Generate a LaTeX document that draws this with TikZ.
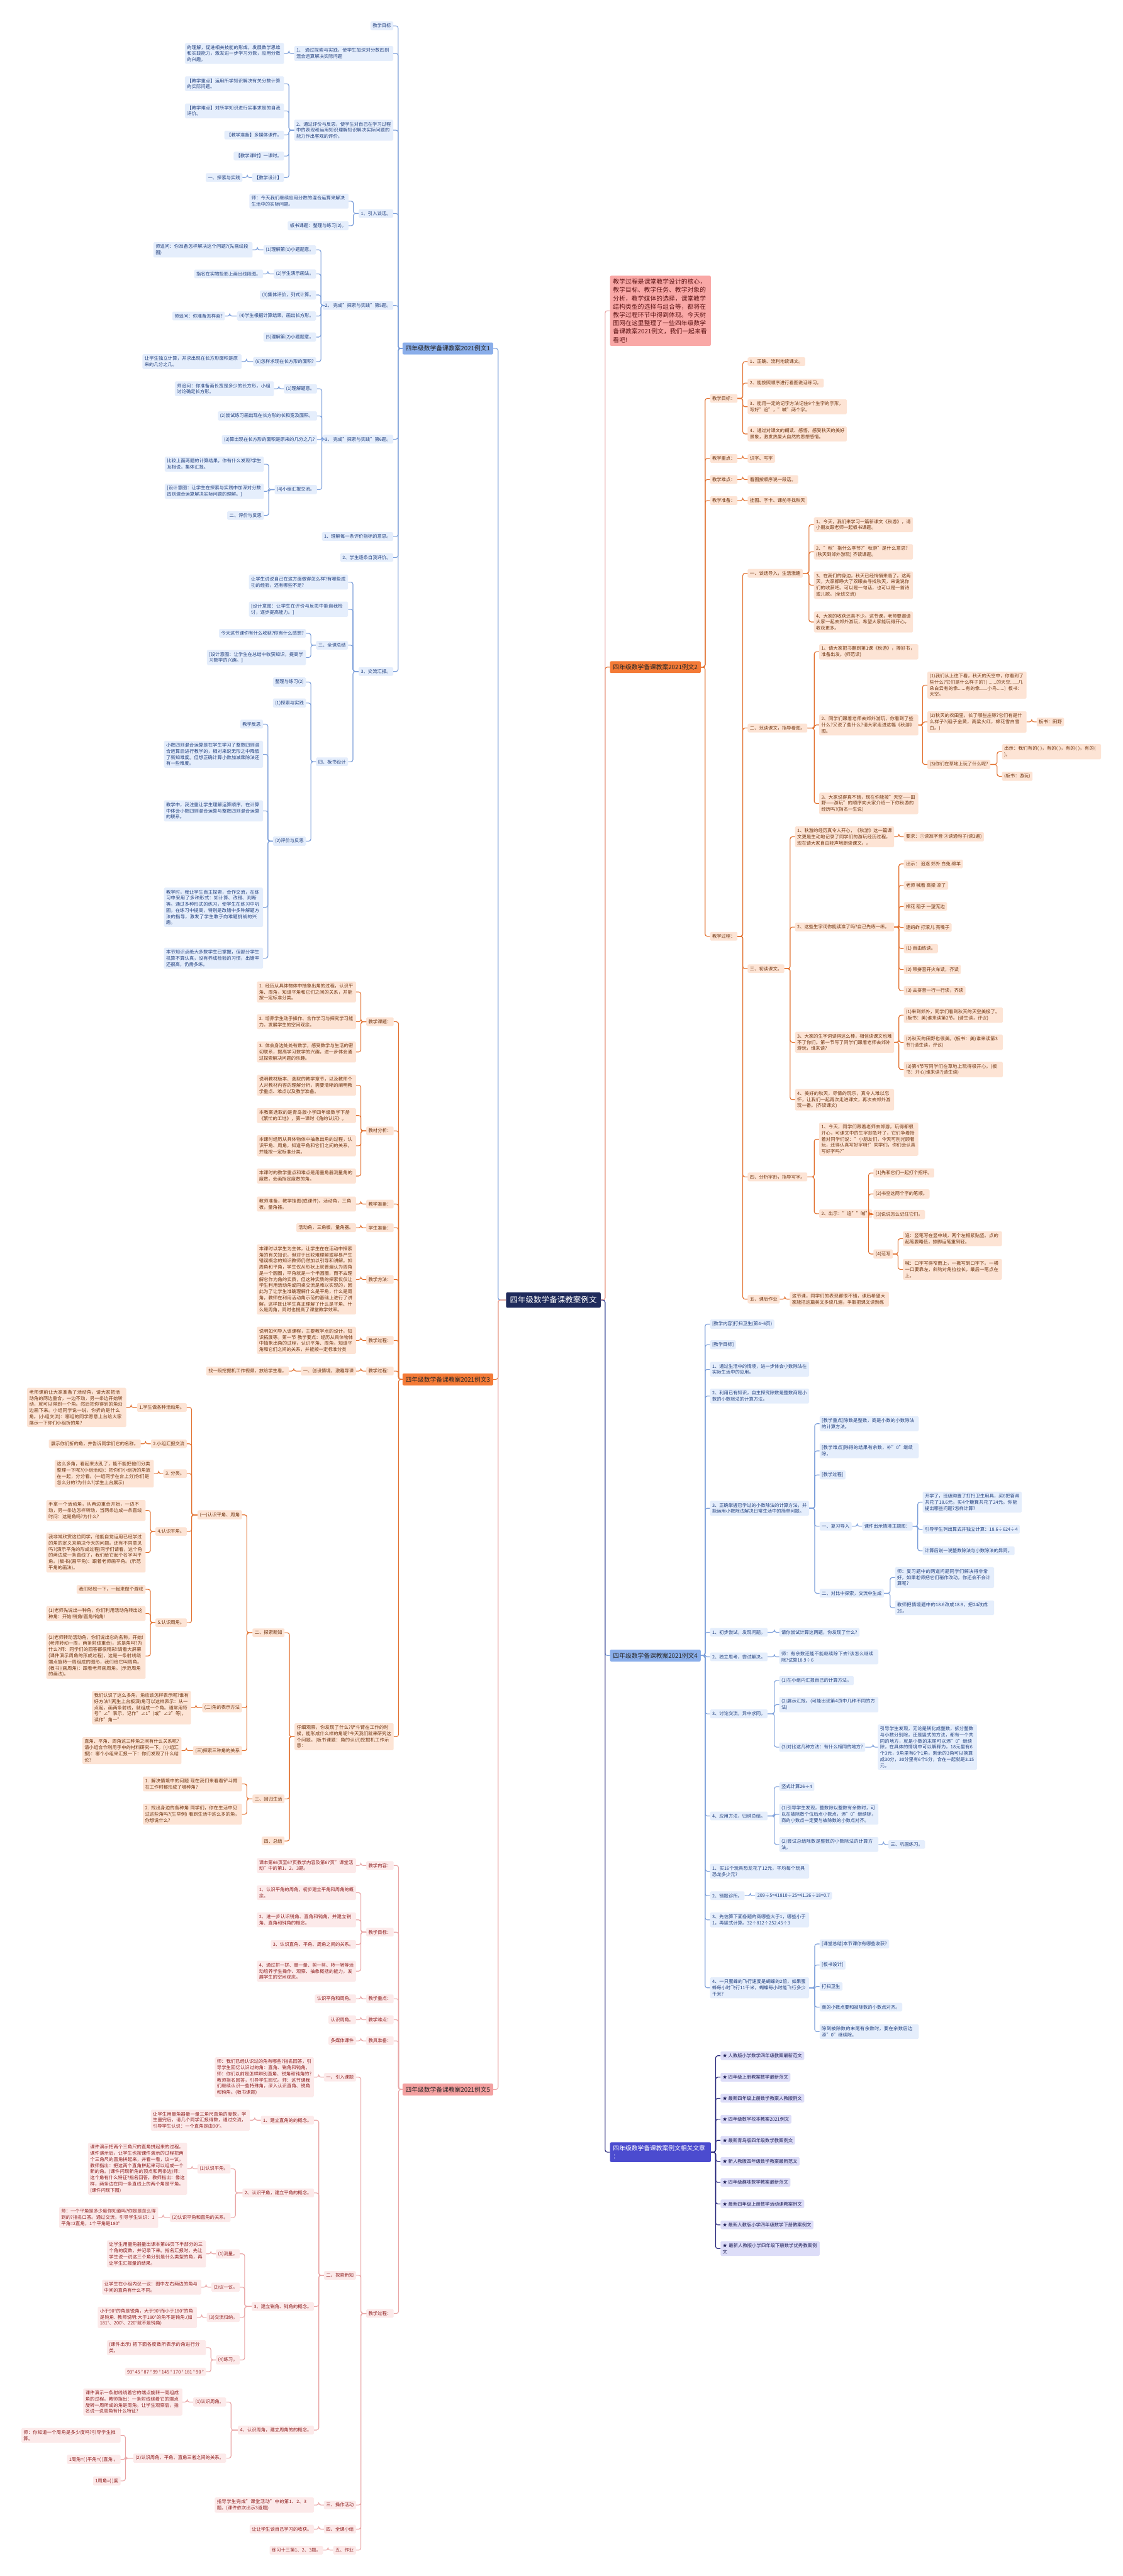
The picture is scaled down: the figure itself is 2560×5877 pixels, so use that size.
\documentclass[tikz,border=0pt]{standalone}
\usepackage{fontspec}
\setmainfont{Noto Sans CJK SC}
\XeTeXlinebreaklocale "zh"
\XeTeXlinebreakskip = 0pt plus 1pt
\usepackage{tikz}

\definecolor{rootc}{HTML}{1F2B5B}
\definecolor{bluemain}{HTML}{8AAEEA}
\definecolor{blueleaf}{HTML}{E5EEFC}
\definecolor{bluetext}{HTML}{22407E}
\definecolor{blueline}{HTML}{7A9EDA}
\definecolor{ormain}{HTML}{F47A36}
\definecolor{orleaf}{HTML}{FDE4D5}
\definecolor{ortext}{HTML}{6E3410}
\definecolor{orline}{HTML}{E2702E}
\definecolor{pkmain}{HTML}{F3A0A0}
\definecolor{pkleaf}{HTML}{FCEAEA}
\definecolor{pktext}{HTML}{8E1F1F}
\definecolor{pkline}{HTML}{E9A5A5}
\definecolor{vimain}{HTML}{4B4BCF}
\definecolor{vileaf}{HTML}{DDDDF8}
\definecolor{vitext}{HTML}{1E1E55}
\definecolor{viline}{HTML}{25257A}
\definecolor{introfill}{HTML}{F9A8A6}
\definecolor{introtext}{HTML}{5E1414}

\newcommand{\linkL}[2]{\draw (#1.west) -| ([xshift=11pt]#2.east) -- (#2.east);}
\newcommand{\linkR}[2]{\draw (#1.east) -| ([xshift=-11pt]#2.west) -- (#2.west);}

\begin{document}
\begin{tikzpicture}[x=1pt,y=-1pt,
  font=\fontsize{10.5}{14}\selectfont,
  leaf/.style={rounded corners=2.5pt,inner xsep=5pt,inner ysep=5pt,align=left},
  tw/.style={text width=216pt},
  lb/.style={leaf,fill=blueleaf,text=bluetext,anchor=east},
  rb/.style={leaf,fill=blueleaf,text=bluetext,anchor=west},
  lo/.style={leaf,fill=orleaf,text=ortext,anchor=east},
  ro/.style={leaf,fill=orleaf,text=ortext,anchor=west},
  lp/.style={leaf,fill=pkleaf,text=pktext,anchor=east},
  rv/.style={leaf,fill=vileaf,text=vitext,anchor=west},
  topic/.style={rounded corners=3pt,inner xsep=7pt,inner ysep=7pt,font=\fontsize{14}{19}\selectfont,align=left},
  link/.style={line width=1.6pt,rounded corners=5pt}]

\fill[white] (0,0) rectangle (2560,5877);
\useasboundingbox (0,0) rectangle (2560,5877);

% centre and main topics
\node[topic,fill=rootc,text=white,font=\fontsize{18}{22}\selectfont,inner xsep=9pt,inner ysep=9pt] (root) at (1262,2966) {四年级数学备课教案例文};
\node[topic,fill=introfill,text=introtext,anchor=west,text width=216pt] (intro) at (1391,709) {教学过程是课堂教学设计的核心，教学目标、教学任务、教学对象的分析，教学媒体的选择，课堂教学结构类型的选择与组合等，都将在教学过程环节中得到体现。今天树图网在这里整理了一些四年级数学备课教案2021例文，我们一起来看看吧!};
\node[topic,fill=bluemain,text=black!85,anchor=east] (a) at (1125,795) {四年级数学备课教案2021例文1};
\node[topic,fill=ormain,text=black!85,anchor=west] (b) at (1391,1522) {四年级数学备课教案2021例文2};
\node[topic,fill=ormain,text=black!85,anchor=east] (c) at (1125,3147) {四年级数学备课教案2021例文3};
\node[topic,fill=bluemain,text=black!85,anchor=west] (d) at (1391,3777) {四年级数学备课教案2021例文4};
\node[topic,fill=pkmain,text=black!85,anchor=east] (e) at (1125,4767) {四年级数学备课教案2021例文5};
\node[topic,fill=vimain,text=white,anchor=west,text width=216pt] (f) at (1391,4910) {四年级数学备课教案例文相关文章\\：};

% example 1
\node[lb] (a1) at (897,59) {教学目标};
\node[lb,tw] (a2) at (897,122) {1、 通过探索与实践，使学生加深对分数四则混合运算解决实际问题};
\node[lb,tw] (a21) at (648,122) {的理解，促进相关技能的形成，发展数学思维和实践能力，激发进一步学习分数，应用分数的兴趣。};
\node[lb,tw] (a3) at (897,297) {2、通过评价与反思，使学生对自己在学习过程中的表现和运用知识理解知识解决实际问题的能力作出客观的评价。};
\node[lb,tw] (a31) at (648,191) {【教学重点】运用所学知识解决有关分数计算的实际问题。};
\node[lb,tw] (a32) at (648,253) {【教学难点】对所学知识进行实事求是的自我评价。};
\node[lb] (a33) at (648,308) {【教学准备】多媒体课件。};
\node[lb] (a34) at (648,356) {【教学课时】一课时。};
\node[lb] (a35) at (648,405) {【教学设计】};
\node[lb] (a351) at (553,405) {一、探索与实践};
\node[lb] (a4) at (897,487) {1、引入谈话。};
\node[lb,tw] (a41) at (795,459) {师：今天我们继续应用分数的混合运算来解决生活中的实际问题。};
\node[lb] (a42) at (795,515) {板书课题：整理与练习(2)。};
\node[lb] (a5) at (897,697) {2、 完成"探索与实践"第5题。};
\node[lb] (a51) at (721,570) {(1)理解第(1)小题题意。};
\node[lb,tw] (a511) at (576,570) {师追问：你准备怎样解决这个问题?(先画线段图)};
\node[lb] (a52) at (721,625) {(2)学生演示画法。};
\node[lb] (a521) at (600,625) {指名在实物投影上画出线段图。};
\node[lb] (a53) at (721,673) {(3)集体评价，列式计算。};
\node[lb] (a54) at (721,721) {(4)学生根据计算结果，画出长方形。};
\node[lb] (a541) at (513,721) {师追问：你准备怎样画?};
\node[lb] (a55) at (721,769) {(5)理解第(2)小题题意。};
\node[lb] (a56) at (721,825) {(6)怎样求现在长方形的面积?};
\node[lb,tw] (a561) at (551,825) {让学生独立计算，并求出现在长方形面积是原来的几分之几。};
\node[lb] (a6) at (897,1002) {3、 完成"探索与实践"第6题。};
\node[lb] (a61) at (723,887) {(1)理解题意。};
\node[lb,tw] (a611) at (625,887) {师追问：你准备画长宽是多少的长方形，小组讨论确定长方形。};
\node[lb,tw] (a62) at (723,949) {(2)尝试练习画出现在长方形的长和宽及面积。};
\node[lb] (a63) at (723,1003) {(3)算出现在长方形的面积是原来的几分之几?};
\node[lb] (a64) at (723,1117) {(4)小组汇报交流。};
\node[lb,tw] (a641) at (602,1059) {比较上面两题的计算结果，你有什么发现?学生互相说，集体汇报。};
\node[lb,tw] (a642) at (602,1121) {[设计意图：让学生在探索与实践中加深对分数四则混合运算解决实际问题的理解。]};
\node[lb] (a643) at (602,1176) {二、评价与反思};
\node[lb] (a7) at (897,1224) {1、理解每一条评价指标的意思。};
\node[lb] (a8) at (897,1272) {2、学生逐条自我评价。};
\node[lb] (a9) at (897,1532) {3、交流汇报。};
\node[lb,tw] (a91) at (794,1328) {让学生说说自己在这方面做得怎么样?有哪些成功的经验，还有哪些不足?};
\node[lb,tw] (a92) at (794,1390) {[设计意图：让学生在评价与反思中能自我检讨，逐步提高能力。]};
\node[lb] (a93) at (794,1472) {三、全课总结};
\node[lb] (a931) at (698,1445) {今天这节课你有什么收获?你有什么感想?};
\node[lb,tw] (a932) at (698,1500) {[设计意图：让学生在总结中收获知识，提高学习数学的兴趣。]};
\node[lb] (a94) at (794,1738) {四、板书设计};
\node[lb] (a941) at (698,1556) {整理与练习(2)};
\node[lb] (a942) at (698,1604) {(1)探索与实践};
\node[lb] (a943) at (698,1919) {(2)评价与反思};
\node[lb] (a9431) at (600,1652) {教学反思};
\node[lb,tw] (a9432) at (600,1721) {小数四则混合运算是在学生学习了整数四则混合运算后进行教学的，相对来说无形之中降低了新知难度。但想正确计算小数加减乘除法还有一些难度。};
\node[lb,tw] (a9433) at (600,1850) {教学中，我注重让学生理解运算顺序，在计算中体会小数四则混合运算与整数四则混合运算的联系。};
\node[lb,tw] (a9434) at (600,2070) {教学时，我让学生自主探索，合作交流，在练习中采用了多种形式：如计算、改错、判断等。通过多种形式的练习，使学生在练习中巩固，在练习中提高，特别是改错中多种解题方法的指导，激发了学生敢于向难题挑战的兴趣。};
\node[lb,tw] (a9435) at (600,2186) {本节知识点绝大多数学生已掌握，但部分学生机算不算认真，没有养成检验的习惯，出错率还很高，仍需多练。};

% example 2
\node[ro] (b1) at (1619,909) {教学目标：};
\node[ro] (b11) at (1705,825) {1、正确、流利地读课文。};
\node[ro] (b12) at (1705,874) {2、能按照顺序进行看图说话练习。};
\node[ro,tw] (b13) at (1705,928) {3、能用一定的记字方法记住9个生字的字形，写好"追"，"喊"两个字。};
\node[ro,tw] (b14) at (1705,990) {4、通过对课文的朗读、感悟，感受秋天的美好景象，激发热爱大自然的思想感情。};
\node[ro] (b2) at (1619,1046) {教学重点：};
\node[ro] (b21) at (1705,1046) {识字、写字};
\node[ro] (b3) at (1619,1094) {教学难点：};
\node[ro] (b31) at (1705,1094) {看图按顺序说一段话。};
\node[ro] (b4) at (1619,1142) {教学准备：};
\node[ro] (b41) at (1705,1142) {挂图、字卡、课前寻找秋天};
\node[ro] (b5) at (1619,2136) {教学过程：};
\node[ro] (b51) at (1705,1308) {一、谈话导入，生活激趣};
\node[ro,tw] (b511) at (1856,1197) {1、今天，我们来学习一篇新课文《秋游》，请小朋友跟老师一起板书课题。};
\node[ro,tw] (b512) at (1856,1259) {2、"秋"指什么季节?"秋游"是什么意思?(秋天到郊外游玩) 齐读课题。};
\node[ro,tw] (b513) at (1856,1335) {3、在我们的身边，秋天已经悄悄来临了。这两天，大家都睁大了双眼去寻找秋天，来说说你们的收获吧。可以是一句话，也可以是一首诗或儿歌。(全班交流)};
\node[ro,tw] (b514) at (1856,1419) {4、大家的收获还真不少。这节课，老师要邀请大家一起去郊外游玩，希望大家能玩得开心，收获更多。};
\node[ro] (b52) at (1705,1661) {二、范读课文，指导看图。};
\node[ro,tw] (b521) at (1868,1487) {1、请大家把书翻到第1课《秋游》，捧好书，准备出发。(师范读)};
\node[ro,tw] (b522) at (1868,1654) {2、同学们跟着老师去郊外游玩，你看到了些什么?又说了些什么?请大家走进这幅《秋游》图。};
\node[ro,tw] (b5221) at (2115,1563) {(1)我们从上往下看，秋天的天空中，你看到了些什么?它们是什么样子的?( ......的天空......几朵白云有的像......有的像......小鸟......) 板书：天空。};
\node[ro,tw] (b5222) at (2115,1647) {(2)秋天的农田里，长了哪些庄稼?它们有是什么样子?(稻子金黄，高粱火红，棉花雪白雪白。)};
\node[ro] (b52221) at (2364,1647) {板书：田野};
\node[ro] (b5223) at (2115,1744) {(3)你们在草地上玩了什么呢?};
\node[ro,tw] (b52231) at (2285,1715) {出示：我们有的( )，有的( )，有的( )，有的( )。};
\node[ro] (b52232) at (2285,1771) {(板书：游玩)};
\node[ro,tw] (b523) at (1868,1833) {3、大家说得真不错，现在你能按"天空——田野——游玩"的顺序向大家介绍一下你秋游的经历吗?(指名一生说)};
\node[ro] (b53) at (1705,2210) {三、初读课文。};
\node[ro,tw] (b531) at (1813,1909) {1、秋游的经历真令人开心，《秋游》这一篇课文更是生动地记录了同学们的游玩经历过程，现在请大家自由轻声地朗读课文。。};
\node[ro] (b5311) at (2061,1909) {要求：①读准字音 ②读通句子(读3遍)};
\node[ro,tw] (b532) at (1813,2115) {2、这些生字词你能读准了吗?自己先练一练。};
\node[ro] (b5321) at (2061,1971) {出示： 追逐 郊外 白兔 绵羊};
\node[ro] (b5322) at (2061,2020) {老师 喊着 高粱 凉了};
\node[ro] (b5323) at (2061,2068) {棉花 稻子 一望无边};
\node[ro] (b5324) at (2061,2116) {逮蚂蚱 打滚儿 亮嗓子};
\node[ro] (b5325) at (2061,2164) {(1) 自由练读。};
\node[ro] (b5326) at (2061,2212) {(2) 带拼音开火车读，齐读};
\node[ro] (b5327) at (2061,2260) {(3) 去拼音一行一行读，齐读};
\node[ro,tw] (b533) at (1813,2378) {3、大家的生字词读得这么棒，相信读课文也难不了你们。第一节写了同学们跟着老师去郊外游玩，谁来读?};
\node[ro,tw] (b5331) at (2061,2316) {(1)来到郊外，同学们看到秋天的天空美极了。(板书：美)谁来读第2节。(请生读，评议)};
\node[ro,tw] (b5332) at (2061,2378) {(2)秋天的田野也很美。(板书：美)谁来读第3节?(请生读，评议)};
\node[ro,tw] (b5333) at (2061,2440) {(3)第4节写同学们在草地上玩得很开心。(板书：开心)谁来读?(请生读)};
\node[ro,tw] (b534) at (1813,2509) {4、美好的秋天，尽情的玩乐，真令人难以忘怀，让我们一起再次走进课文，再次去郊外游玩一番。(齐读课文)};
\node[ro] (b54) at (1705,2685) {四、分析字形，指导写字。};
\node[ro,tw] (b541) at (1868,2599) {1、今天，同学们跟着老师去郊游，玩得都很开心，可课文中的生字却急坏了，它们争着抢着对同学们说："小朋友们，今天可别光顾着玩，还得认真写好字呀!"同学们，你们会认真写好字吗?"};
\node[ro] (b542) at (1868,2769) {2、出示："追""喊"};
\node[ro] (b5421) at (1992,2676) {(1)先和它们一起打个招呼。};
\node[ro] (b5422) at (1992,2724) {(2)书空这两个字的笔顺。};
\node[ro] (b5423) at (1992,2771) {(3)说说怎么记住它们。};
\node[ro] (b5424) at (1992,2861) {(4)范写};
\node[ro,tw] (b54241) at (2059,2826) {追：竖笔写在竖中线，两个左框紧贴竖。点的起笔要略低，捺脚运笔重到轻。};
\node[ro,tw] (b54242) at (2059,2896) {喊：口字写得窄而上，一撇写到口字下。一横一口要靠左，斜钩对角拉拉长，最后一笔点在上。};
\node[ro] (b55) at (1705,2964) {五、课后作业};
\node[ro,tw] (b551) at (1801,2964) {这节课，同学们的表现都很不错，课后希望大家能把这篇美文多读几遍，争取把课文读熟练};

% example 3
\node[lo] (c1) at (898,2331) {教学课题：};
\node[lo,tw] (c11) at (812,2263) {1. 经历从具体物体中抽象出角的过程，认识平角、周角，知道平角和它们之间的关系，并能按一定标准分类。};
\node[lo,tw] (c12) at (812,2331) {2. 培养学生动手操作、合作学习与探究学习能力。发展学生的空间观念。};
\node[lo,tw] (c13) at (812,2400) {3. 体会身边处处有数学，感受数学与生活的密切联系，提高学习数学的兴趣，进一步体会通过探索解决问题的乐趣。};
\node[lo] (c2) at (898,2580) {教材分析：};
\node[lo,tw] (c21) at (812,2476) {说明教材版本、选取的教学章节，以及教师个人对教材内容的理解分析，需要清晰的阐明教学重点、难点以及教学准备。};
\node[lo,tw] (c22) at (812,2545) {本教案选取的是青岛版小学四年级数学下册《繁忙的工地》，第一课时《角的认识》。};
\node[lo,tw] (c23) at (812,2614) {本课时经历从具体物体中抽象出角的过程，认识平角、周角，知道平角和它们之间的关系，并能按一定标准分类。};
\node[lo,tw] (c24) at (812,2683) {本课时的教学重点和难点是用量角器测量角的度数，会画指定度数的角。};
\node[lo] (c3) at (898,2747) {教学准备：};
\node[lo,tw] (c31) at (812,2747) {教师准备，教学挂图(或课件)，活动角，三角板，量角器。};
\node[lo] (c4) at (898,2801) {学生准备：};
\node[lo] (c41) at (812,2801) {活动角，三角板，量角器。};
\node[lo] (c5) at (898,2919) {教学方法：};
\node[lo,tw] (c51) at (812,2919) {本课时以学生为主体，让学生在在活动中探索角的有关知识，但对于比较难理解或容易产生错误概念的知识教师仍然加以引导和讲解。如周角和平角，学生仅从形状上就普遍认为周角是一个圆圈，平角就是一个半圆圈，而不去理解它作为角的实质，但这种实质的探索仅仅让学生利用活动角或同桌交流是难以实现的，因此为了让学生准确理解什么是平角，什么是周角，教师在利用活动角示范的基础上进行了讲解，这样既让学生真正理解了什么是平角、什么是周角，同时也提高了课堂教学效率。};
\node[lo] (c6) at (898,3058) {教学过程：};
\node[lo,tw] (c61) at (812,3058) {说明如何导入该课程，主要教学点的设计，知识拓展等。第一节 教学要点：经历从具体物体中抽象出角的过程，认识平角、周角，知道平角和它们之间的关系，并能按一定标准分类};
\node[lo] (c7) at (898,3128) {教学过程：};
\node[lo] (c71) at (812,3128) {一、创设情境，激趣导课};
\node[lo] (c711) at (659,3128) {找一段挖掘机工作视频，放给学生看。};
\node[lo,tw] (c8) at (898,3962) {仔细观察，你发现了什么?铲斗臂在工作的时候，能形成什么样的角呢?今天我们就来研究这个问题。(板书课题：角的认识)挖掘机工作示意：};
\node[lo] (c81) at (649,3725) {二、探索新知};
\node[lo] (c811) at (552,3456) {(一)认识平角、周角};
\node[lo] (c8111) at (426,3211) {1.学生做各种活动角。};
\node[lo,tw] (c81111) at (288,3211) {老师课前让大家准备了活动角，请大家把活动角的两边重合，一边不动，另一条边开始转动，就可以得到一个角。然后把你得到的角沿边画下来。小组同学说一说，你折的是什么角。(小组交流)：哪组的同学愿意上台给大家展示一下你们小组折的角?};
\node[lo] (c8112) at (426,3294) {2.小组汇报交流};
\node[lo] (c81121) at (321,3294) {展示你们折的角，并告诉同学们它的名称。};
\node[lo] (c8113) at (426,3362) {3. 分类。};
\node[lo,tw] (c81131) at (351,3362) {这么多角，看起来太乱了，能不能把他们分类整理一下呢?(小组活动)：把你们小组折的角放在一起，分分看。(一组同学在台上分)你们是怎么分的?为什么?(学生上台展示)};
\node[lo] (c8114) at (426,3494) {4.认识平角。};
\node[lo,tw] (c81141) at (332,3446) {手拿一个活动角，从两边重合开始，一边不动，另一条边怎样转动，当两条边成一条直线时问：这是角吗?为什么?};
\node[lo,tw] (c81142) at (332,3542) {我非常欣赏这位同学，他能自觉运用已经学过的角的定义来解决今天的问题。还有不同意见吗?(演示平角的形成过程)同学们请看，这个角的两边成一条直线了，我们给它起个名字叫平角。(板书)(画平角)：跟着老师画平角。(示范平角的画法)。};
\node[lo] (c8115) at (426,3702) {5.认识周角。};
\node[lo] (c81151) at (332,3626) {我们轻松一下，一起来做个游戏};
\node[lo,tw] (c81152) at (332,3681) {(1)老师先说出一种角，你们利用活动角转出这种角：开始!锐角!直角!钝角!};
\node[lo,tw] (c81153) at (332,3778) {(2)老师转动活动角，你们说出它的名称。开始!(老师转动一周，两条射线重合)，这是角吗?为什么?师：同学们的回答都很精彩!请看大屏幕(课件演示周角的形成过程)，这是一条射线绕端点旋转一周组成的图形，我们给它叫周角。(板书)(画周角)：跟着老师画周角。(示范周角的画法)。};
\node[lo] (c812) at (552,3896) {(二)角的表示方法};
\node[lo,tw] (c8121) at (436,3896) {我们认识了这么多角，角应该怎样表示呢?谁有好方法?(两生上台板演)角可以这样表示：从一点起，画两条射线，就组成一个角。通常用符号"∠"表示，记作"∠1"(或"∠2"等)，读作"角一"};
\node[lo] (c813) at (552,3994) {(三)探索三种角的关系};
\node[lo,tw] (c8131) at (414,3994) {直角、平角、周角这三种角之间有什么关系呢?请小组合作利用手中的材料研究一下。(小组汇报)：哪个小组来汇报一下：你们发现了什么结论?};
\node[lo] (c82) at (649,4104) {三、回归生活};
\node[lo,tw] (c821) at (552,4070) {1. 解决情境中的问题 现在我们来看看铲斗臂在工作时都形成了哪种角?};
\node[lo,tw] (c822) at (552,4139) {2. 找出身边的各种角 同学们，你在生活中见过这些角吗?(生举例) 看到生活中这么多的角，你想说什么?};
\node[lo] (c83) at (649,4200) {四、总结};

% example 4
\node[rb] (dA) at (1619,3021) {[教学内容]打扫卫生(第4\textasciitilde6页)};
\node[rb] (dB) at (1619,3068) {[教学目标]};
\node[rb,tw] (dC) at (1619,3124) {1、通过生活中的情境，进一步体会小数除法在实际生活中的应用。};
\node[rb,tw] (dD) at (1619,3185) {2、利用已有知识，自主探究除数是整数商是小数的小数除法的计算方法。};
\node[rb,tw] (dE) at (1619,3441) {3、正确掌握已学过的小数除法的计算方法，并能运用小数除法解决日常生活中的简单问题。};
\node[rb,tw] (dE1) at (1869,3248) {[教学重点]除数是整数，商是小数的小数除法的计算方法。};
\node[rb,tw] (dE2) at (1869,3310) {[教学难点]除得的结果有余数，补"0"继续除。};
\node[rb] (dE3) at (1869,3365) {[教学过程]};
\node[rb] (dE4) at (1869,3482) {一、复习导入};
\node[rb] (dE41) at (1966,3482) {课件出示情境主题图：};
\node[rb,tw] (dE411) at (2104,3427) {开学了，班级购置了打扫卫生用具，买6把笤帚共花了18.6元，买4个簸箕共花了24元。你能提出哪些问题?怎样计算?};
\node[rb] (dE412) at (2104,3489) {引导学生列出算式并独立计算：18.6÷624÷4};
\node[rb] (dE413) at (2104,3538) {计算后说一说整数除法与小数除法的异同。};
\node[rb] (dE5) at (1869,3635) {二、对比中探索，交流中生成};
\node[rb,tw] (dE51) at (2041,3599) {师：复习题中的两道问题同学们解决得非常好，如果老师把它们稍作改动，你还会不会计算呢?};
\node[rb,tw] (dE52) at (2041,3668) {教师把情境题中的18.6改成18.9，把24改成26。};
\node[rb] (dF) at (1619,3724) {1、初步尝试，发现问题。};
\node[rb] (dF1) at (1777,3724) {请你尝试计算这两题，你发现了什么?};
\node[rb] (dG) at (1619,3780) {2、独立思考，尝试解决。};
\node[rb,tw] (dG1) at (1777,3780) {师：有余数还能不能继续除下去?该怎么继续除?试算18.9÷6};
\node[rb] (dH) at (1619,3910) {3、讨论交流，异中求同。};
\node[rb] (dH1) at (1777,3834) {(1)在小组内汇报自己的计算方法。};
\node[rb,tw] (dH2) at (1777,3889) {(2)展示汇报。(可能出现第4页中几种不同的方法)};
\node[rb] (dH3) at (1777,3986) {(3)对比这几种方法：有什么相同的地方?};
\node[rb,tw] (dH31) at (2002,3986) {引导学生发现，无论是转化成整数，拆分整数与小数分别除，还是竖式的方法，都有一个共同的地方，就是小数的末尾可以添"0"继续除，在具体的情境中可以解释为，18元里有6个3元，9角里有6个1角，剩余的3角可以换算成30分，30分里有6个5分，合在一起就是3.15元。};
\node[rb] (dI) at (1619,4143) {4、应用方法，归纳总结。};
\node[rb] (dI1) at (1777,4076) {竖式计算26÷4};
\node[rb,tw] (dI2) at (1777,4139) {(1)引导学生发现，整数除以整数有余数时，可以在被除数个位后点小数点，添"0"继续除，商的小数点一定要与被除数的小数点对齐。};
\node[rb,tw] (dI3) at (1777,4208) {(2)尝试总结除数是整数的小数除法的计算方法。};
\node[rb] (dI31) at (2026,4208) {三、巩固练习。};
\node[rb,tw] (dJ) at (1619,4269) {1、买16个玩具恐龙花了12元，平均每个玩具恐龙多少元?};
\node[rb] (dK) at (1619,4325) {2、错题诊所。};
\node[rb] (dK1) at (1722,4325) {209÷5=41810÷25=41.26÷18=0.7};
\node[rb,tw] (dL) at (1619,4380) {3、先估算下面各题的商哪些大于1，哪些小于1，再竖式计算。32÷812÷252.45÷3};
\node[rb,tw] (dM) at (1619,4535) {4、一只蜜蜂的飞行速度是蝴蝶的2倍，如果蜜蜂每小时飞行11千米，蝴蝶每小时能飞行多少千米?};
\node[rb] (dM1) at (1869,4435) {[课堂总结]本节课你有哪些收获?};
\node[rb] (dM2) at (1869,4483) {[板书设计]};
\node[rb] (dM3) at (1869,4532) {打扫卫生};
\node[rb] (dM4) at (1869,4579) {商的小数点要和被除数的小数点对齐。};
\node[rb,tw] (dM5) at (1869,4635) {除到被除数的末尾有余数时，要在余数后边添"0"继续除。};

% example 5
\node[lp] (e1) at (898,4256) {教学内容：};
\node[lp,tw] (e11) at (812,4256) {课本第66页至67页教学内容及第67页"课堂活动"中的第1、2、3题。};
\node[lp] (e2) at (898,4408) {教学目标：};
\node[lp,tw] (e21) at (812,4318) {1、认识平角的周角，初步建立平角和周角的概念。};
\node[lp,tw] (e22) at (812,4380) {2、进一步认识锐角、直角和钝角，并建立锐角、直角和钝角的概念。};
\node[lp] (e23) at (812,4436) {3、认识直角、平角、周角之间的关系。};
\node[lp,tw] (e24) at (812,4497) {4、通过拼一拼、量一量、剪一剪、转一转等活动培养学生操作、观察、抽象概括的能力，发展学生的空间观念。};
\node[lp] (e3) at (898,4560) {教学重点：};
\node[lp] (e31) at (812,4560) {认识平角和周角。};
\node[lp] (e4) at (898,4608) {教学难点：};
\node[lp] (e41) at (812,4608) {认识周角。};
\node[lp] (e5) at (898,4656) {教具准备：};
\node[lp] (e51) at (812,4656) {多媒体课件};
\node[lp] (e6) at (898,5278) {教学过程：};
\node[lp] (e61) at (812,4739) {一、引入课题};
\node[lp,tw] (e611) at (716,4739) {师：我们已经认识过的角有哪些?指名回答，引导学生回忆认识过的角：直角、锐角和钝角。师：你们以前是怎样辨别直角、锐角和钝角的?教师指名回答，引导学生回忆。师：这节课我们继续认识一些特殊角，深入认识直角、锐角和钝角。(板书课题)};
\node[lp] (e62) at (812,5191) {二、探索新知};
\node[lp] (e621) at (716,4837) {1、建立直角的的概念。};
\node[lp,tw] (e6211) at (570,4837) {让学生用量角器量一量三角尺直角的度数，学生量完后，请几个同学汇报得数，通过交流，引导学生认识：一个直角是由90°。};
\node[lp] (e622) at (716,5003) {2、认识平角，建立平角的概念。};
\node[lp] (e6221) at (526,4948) {(1)认识平角。};
\node[lp,tw] (e62211) at (427,4948) {课件演示把两个三角尺的直角拼起来的过程。课件演示后，让学生也按课件演示的过程把两个三角尺的直角拼起来，并看一看，议一议。教师指出：把这两个直角拼起来可以组成一个新的角。(课件闪现新角的顶点和两条边)师：这个角有什么特征?指名回答。教师指出：像这样，两条边在同一条直线上的两个角是平角。(课件闪现下图)};
\node[lp] (e6222) at (526,5059) {(2)认识平角和直角的关系。};
\node[lp,tw] (e62221) at (361,5059) {师：一个平角是多少度你知道吗?你是是怎么得到的?指名口答。通过交流，引导学生认识：1平角=2直角，1个平角是180°};
\node[lp] (e623) at (716,5262) {3、建立锐角、钝角的概念。};
\node[lp] (e6231) at (547,5142) {(1)测量。};
\node[lp,tw] (e62311) at (470,5142) {让学生用量角器量出课本第66页下半部分的三个角的度数，并记录下来。指名汇报时，先让学生说一说这三个角分别是什么类型的角，再让学生汇报量的结果。};
\node[lp] (e6232) at (547,5218) {(2)议一议。};
\node[lp,tw] (e62321) at (459,5218) {让学生在小组内议一议：图中左右两边的角与中间的直角有什么不同。};
\node[lp] (e6233) at (547,5287) {(3)交流归纳。};
\node[lp,tw] (e62331) at (449,5287) {小于90°的角是锐角，大于90°而小于180°的角是钝角. 教师说明:大于180°的角不是钝角.(如181°、200°、220°就不是钝角)};
\node[lp] (e6234) at (547,5384) {(4)练习。};
\node[lp,tw] (e62341) at (470,5356) {(课件出示) 把下面各度数所表示的角进行分类。};
\node[lp] (e62342) at (470,5411) {93° 45 ° 87 ° 99 ° 145 ° 170 ° 181 ° 90 °};
\node[lp] (e624) at (716,5544) {4、认识周角，建立周角的的概念。};
\node[lp] (e6241) at (516,5480) {(1)认识周角。};
\node[lp,tw] (e62411) at (416,5480) {课件演示一条射线绕着它的端点旋转一周组成角的过程。教师指出：一条射线绕着它的端点旋转一周所成的角是周角。让学生观察后，指名说一说周角有什么特征?};
\node[lp] (e6242) at (516,5608) {(2)认识周角、平角、直角三者之间的关系。};
\node[lp,tw] (e62421) at (275,5556) {师：你知道一个周角是多少度吗?引导学生推算。};
\node[lp] (e62422) at (275,5611) {1周角=( )平角=( )直角 。};
\node[lp] (e62423) at (275,5660) {1周角=( )度};
\node[lp] (e63) at (812,5715) {三、操作活动};
\node[lp,tw] (e631) at (716,5715) {指导学生完成"课堂活动"中的第1、2、3题。(课件依次出示3道题)};
\node[lp] (e64) at (812,5770) {四、全课小结};
\node[lp] (e641) at (716,5770) {让让学生谈自己学习的收获。};
\node[lp] (e65) at (812,5818) {五、作业};
\node[lp] (e651) at (737,5818) {练习十三第1、2、3题。};

% related articles
\node[rv] (f1) at (1643,4690) {★ 人教版小学数学四年级教案最新范文};
\node[rv] (f2) at (1643,4739) {★ 四年级上册教案数学最新范文};
\node[rv] (f3) at (1643,4787) {★ 最新四年级上册数学教案人教版例文};
\node[rv] (f4) at (1643,4835) {★ 四年级数学校本教案2021例文};
\node[rv] (f5) at (1643,4883) {★ 最新青岛版四年级数学教案例文};
\node[rv] (f6) at (1643,4931) {★ 新人教版四年级数学教案最新范文};
\node[rv] (f7) at (1643,4979) {★ 四年级趣味数学教案最新范文};
\node[rv] (f8) at (1643,5028) {★ 最新四年级上册数学活动课教案例文};
\node[rv] (f9) at (1643,5076) {★ 最新人教版小学四年级数学下册教案例文};
\node[rv,tw] (f10) at (1643,5130) {★ 最新人教版小学四年级下册数学优秀教案例文};

% connectors
\begin{scope}[link,color=blueline]
  \linkL{root}{a}
  \linkR{root}{d}
  \foreach \c in {a1,a2,a3,a4,a5,a6,a7,a8,a9} {\linkL{a}{\c}}
  \linkL{a2}{a21}
  \foreach \c in {a31,a32,a33,a34,a35} {\linkL{a3}{\c}}
  \linkL{a35}{a351}
  \foreach \c in {a41,a42} {\linkL{a4}{\c}}
  \foreach \c in {a51,a52,a53,a54,a55,a56} {\linkL{a5}{\c}}
  \linkL{a51}{a511} \linkL{a52}{a521} \linkL{a54}{a541} \linkL{a56}{a561}
  \foreach \c in {a61,a62,a63,a64} {\linkL{a6}{\c}}
  \linkL{a61}{a611}
  \foreach \c in {a641,a642,a643} {\linkL{a64}{\c}}
  \foreach \c in {a91,a92,a93,a94} {\linkL{a9}{\c}}
  \foreach \c in {a931,a932} {\linkL{a93}{\c}}
  \foreach \c in {a941,a942,a943} {\linkL{a94}{\c}}
  \foreach \c in {a9431,a9432,a9433,a9434,a9435} {\linkL{a943}{\c}}
  \foreach \c in {dA,dB,dC,dD,dE,dF,dG,dH,dI,dJ,dK,dL,dM} {\linkR{d}{\c}}
  \foreach \c in {dE1,dE2,dE3,dE4,dE5} {\linkR{dE}{\c}}
  \linkR{dE4}{dE41}
  \foreach \c in {dE411,dE412,dE413} {\linkR{dE41}{\c}}
  \foreach \c in {dE51,dE52} {\linkR{dE5}{\c}}
  \linkR{dF}{dF1} \linkR{dG}{dG1}
  \foreach \c in {dH1,dH2,dH3} {\linkR{dH}{\c}}
  \linkR{dH3}{dH31}
  \foreach \c in {dI1,dI2,dI3} {\linkR{dI}{\c}}
  \linkR{dI3}{dI31} \linkR{dK}{dK1}
  \foreach \c in {dM1,dM2,dM3,dM4,dM5} {\linkR{dM}{\c}}
\end{scope}

\begin{scope}[link,color=orline]
  \linkR{root}{b}
  \linkL{root}{c}
  \foreach \c in {b1,b2,b3,b4,b5} {\linkR{b}{\c}}
  \foreach \c in {b11,b12,b13,b14} {\linkR{b1}{\c}}
  \linkR{b2}{b21} \linkR{b3}{b31} \linkR{b4}{b41}
  \foreach \c in {b51,b52,b53,b54,b55} {\linkR{b5}{\c}}
  \foreach \c in {b511,b512,b513,b514} {\linkR{b51}{\c}}
  \foreach \c in {b521,b522,b523} {\linkR{b52}{\c}}
  \foreach \c in {b5221,b5222,b5223} {\linkR{b522}{\c}}
  \linkR{b5222}{b52221}
  \foreach \c in {b52231,b52232} {\linkR{b5223}{\c}}
  \foreach \c in {b531,b532,b533,b534} {\linkR{b53}{\c}}
  \linkR{b531}{b5311}
  \foreach \c in {b5321,b5322,b5323,b5324,b5325,b5326,b5327} {\linkR{b532}{\c}}
  \foreach \c in {b5331,b5332,b5333} {\linkR{b533}{\c}}
  \foreach \c in {b541,b542} {\linkR{b54}{\c}}
  \foreach \c in {b5421,b5422,b5423,b5424} {\linkR{b542}{\c}}
  \foreach \c in {b54241,b54242} {\linkR{b5424}{\c}}
  \linkR{b55}{b551}
  \foreach \c in {c1,c2,c3,c4,c5,c6,c7,c8} {\linkL{c}{\c}}
  \foreach \c in {c11,c12,c13} {\linkL{c1}{\c}}
  \foreach \c in {c21,c22,c23,c24} {\linkL{c2}{\c}}
  \linkL{c3}{c31} \linkL{c4}{c41} \linkL{c5}{c51} \linkL{c6}{c61}
  \linkL{c7}{c71} \linkL{c71}{c711}
  \foreach \c in {c81,c82,c83} {\linkL{c8}{\c}}
  \foreach \c in {c811,c812,c813} {\linkL{c81}{\c}}
  \foreach \c in {c8111,c8112,c8113,c8114,c8115} {\linkL{c811}{\c}}
  \linkL{c8111}{c81111} \linkL{c8112}{c81121} \linkL{c8113}{c81131}
  \foreach \c in {c81141,c81142} {\linkL{c8114}{\c}}
  \foreach \c in {c81151,c81152,c81153} {\linkL{c8115}{\c}}
  \linkL{c812}{c8121} \linkL{c813}{c8131}
  \foreach \c in {c821,c822} {\linkL{c82}{\c}}
\end{scope}

\begin{scope}[link,color=pkline]
  \linkR{root}{intro}
  \linkL{root}{e}
  \foreach \c in {e1,e2,e3,e4,e5,e6} {\linkL{e}{\c}}
  \linkL{e1}{e11}
  \foreach \c in {e21,e22,e23,e24} {\linkL{e2}{\c}}
  \linkL{e3}{e31} \linkL{e4}{e41} \linkL{e5}{e51}
  \foreach \c in {e61,e62,e63,e64,e65} {\linkL{e6}{\c}}
  \linkL{e61}{e611}
  \foreach \c in {e621,e622,e623,e624} {\linkL{e62}{\c}}
  \linkL{e621}{e6211}
  \foreach \c in {e6221,e6222} {\linkL{e622}{\c}}
  \linkL{e6221}{e62211} \linkL{e6222}{e62221}
  \foreach \c in {e6231,e6232,e6233,e6234} {\linkL{e623}{\c}}
  \linkL{e6231}{e62311} \linkL{e6232}{e62321} \linkL{e6233}{e62331}
  \foreach \c in {e62341,e62342} {\linkL{e6234}{\c}}
  \foreach \c in {e6241,e6242} {\linkL{e624}{\c}}
  \linkL{e6241}{e62411}
  \foreach \c in {e62421,e62422,e62423} {\linkL{e6242}{\c}}
  \linkL{e63}{e631} \linkL{e64}{e641} \linkL{e65}{e651}
\end{scope}

\begin{scope}[link,color=viline]
  \linkR{root}{f}
  \foreach \c in {f1,f2,f3,f4,f5,f6,f7,f8,f9,f10} {\linkR{f}{\c}}
\end{scope}
\end{tikzpicture}
\end{document}
